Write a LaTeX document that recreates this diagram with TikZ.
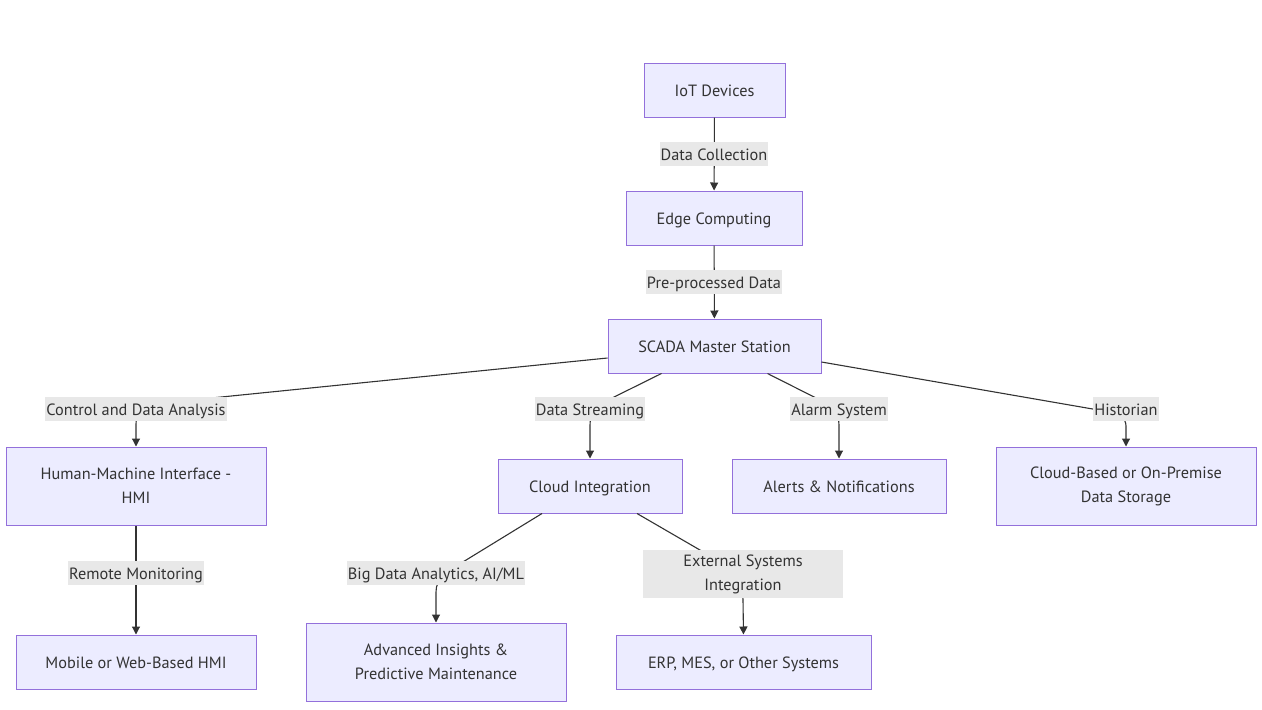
\documentclass[tikz,border=0pt]{standalone}
\usepackage{fontspec}
\setmainfont{PT Sans}
\usetikzlibrary{arrows.meta}
\definecolor{boxfill}{HTML}{ECECFF}
\definecolor{boxline}{HTML}{9370DB}
\definecolor{lblfill}{HTML}{E8E8E8}
\definecolor{ink}{HTML}{333333}
\newcommand{\txt}{\fontsize{16.3}{24}\selectfont}

\begin{document}
\begin{tikzpicture}[x=1pt,y=1pt,
  box/.style={draw=boxline,fill=boxfill,line width=1pt,text=ink,align=center,font=\txt,inner sep=0pt},
  one/.style={text height=13pt,text depth=1pt},
  lbl/.style={fill=lblfill,text=ink,align=center,font=\txt,inner xsep=1pt,inner ysep=0pt,minimum height=24pt},
  link/.style={draw=ink,line width=1.1pt,-{Triangle[length=8pt,width=8pt]}}]
\useasboundingbox (0,0) rectangle (1262,-710);

% boxes
\node[box,one,minimum width=141pt,minimum height=54pt] (iot) at (714.5,-90) {IoT Devices};
\node[box,one,minimum width=176pt,minimum height=54pt] (edge) at (714,-218) {Edge Computing};
\node[box,one,minimum width=213pt,minimum height=54pt] (scada) at (714.5,-346) {SCADA Master Station};
\node[box,minimum width=260pt,minimum height=78pt] (hmi) at (136,-486) {Human-Machine Interface -\\HMI};
\node[box,one,minimum width=184pt,minimum height=54pt] (cloud) at (590,-486) {Cloud Integration};
\node[box,one,minimum width=214pt,minimum height=54pt] (alerts) at (839,-486) {Alerts \& Notifications};
\node[box,minimum width=260pt,minimum height=78pt] (store) at (1126,-486) {Cloud-Based or On-Premise\\Data Storage};
\node[box,one,minimum width=240pt,minimum height=54pt] (mobile) at (136,-662) {Mobile or Web-Based HMI};
\node[box,minimum width=260pt,minimum height=78pt] (insight) at (436,-662) {Advanced Insights \&\\Predictive Maintenance};
\node[box,one,minimum width=255pt,minimum height=54pt] (erp) at (743.5,-662) {ERP, MES, or Other Systems};

% links
\draw[link] (iot) -- (edge);
\draw[link] (edge) -- (scada);
\draw[link] ([yshift=-12pt]scada.west) -- (152,-404) to[out=186,in=90] (136,-424) -- (hmi.north);
\draw[link] ([xshift=-53pt]scada.south) -- (606,-401) to[out=207,in=90] (590,-425) -- (cloud.north);
\draw[link] ([xshift=53pt]scada.south) -- (822,-401) to[out=-27,in=90] (839,-425) -- (alerts.north);
\draw[link] ([yshift=-16pt]scada.east) -- (1110,-412) to[out=-10,in=90] (1126,-426) -- (store.north);
\draw[link] (hmi) -- (mobile);
\draw[link] ([xshift=-48pt]cloud.south) -- (458,-565) to[out=211,in=90] (436,-592) -- (insight.north);
\draw[link] ([xshift=47pt]cloud.south) -- (712,-557) to[out=-30,in=90] (743,-600) -- (erp.north);

% labels
\node[lbl,one] (l1) at (714,-154) {Data Collection};
\node[lbl,one] (l2) at (714,-282) {Pre-processed Data};
\node[lbl,one] (l3) at (136,-409) {Control and Data Analysis};
\node[lbl,one] (l4) at (590,-409) {Data Streaming};
\node[lbl,one] (l5) at (839,-409) {Alarm System};
\node[lbl,one] (l6) at (1126,-409) {Historian};
\node[lbl,one] (l7) at (136,-573) {Remote Monitoring};
\node[lbl,one] (l8) at (436,-573) {Big Data Analytics, AI/ML};
\node[lbl,minimum width=200pt,minimum height=48pt] (l9) at (743,-574) {External Systems\\Integration};
\end{tikzpicture}
\end{document}
